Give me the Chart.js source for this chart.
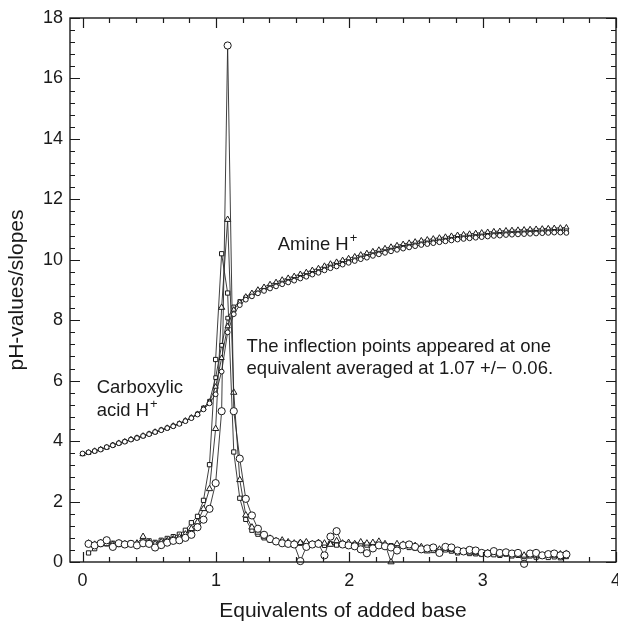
<!DOCTYPE html>
<html lang="en">
<head>
<meta charset="UTF-8">
<title>pH-values/slopes</title>
<script src="https://cdn.jsdelivr.net/npm/chart.js"></script>
<style>
  html, body { margin: 0; padding: 0; background: #fff; }
  #wrap { width: 618px; height: 622px; }
</style>
</head>
<body>
<div id="wrap"><canvas id="chart" width="618" height="622"></canvas></div>
<script>
// equivalents of added base (same grid for all three titrations)
const equivalents = [
  0.000, 0.045, 0.091, 0.136, 0.181, 0.227, 0.272, 0.317, 0.363, 0.408,
  0.454, 0.499, 0.544, 0.590, 0.635, 0.680, 0.726, 0.771, 0.816, 0.862,
  0.907, 0.952, 0.998, 1.043, 1.088, 1.134, 1.179, 1.224, 1.270, 1.315,
  1.361, 1.406, 1.451, 1.497, 1.542, 1.587, 1.633, 1.678, 1.723, 1.769,
  1.814, 1.859, 1.905, 1.950, 1.995, 2.041, 2.086, 2.132, 2.177, 2.222,
  2.268, 2.313, 2.358, 2.404, 2.449, 2.494, 2.540, 2.585, 2.630, 2.676,
  2.721, 2.766, 2.812, 2.857, 2.902, 2.948, 2.993, 3.038, 3.084, 3.129,
  3.175, 3.220, 3.265, 3.311, 3.356, 3.401, 3.447, 3.492, 3.537, 3.583,
  3.628
];

// pH values
const phCircles = [
  3.59, 3.63, 3.67, 3.72, 3.80, 3.86, 3.93, 3.98, 4.05, 4.10,
  4.17, 4.23, 4.30, 4.36, 4.43, 4.49, 4.57, 4.66, 4.76, 4.88,
  5.05, 5.25, 5.55, 6.30, 7.60, 8.20, 8.50, 8.68, 8.79, 8.89,
  8.97, 9.05, 9.12, 9.19, 9.25, 9.31, 9.38, 9.44, 9.51, 9.57,
  9.65, 9.72, 9.78, 9.84, 9.90, 9.96, 10.02, 10.07, 10.13, 10.18,
  10.23, 10.28, 10.33, 10.37, 10.41, 10.45, 10.49, 10.52, 10.55, 10.58,
  10.61, 10.64, 10.67, 10.69, 10.71, 10.73, 10.75, 10.77, 10.79, 10.80,
  10.82, 10.83, 10.84, 10.85, 10.86, 10.87, 10.88, 10.89, 10.90, 10.90,
  10.89
];
const phTriangles = [
  3.57, 3.62, 3.68, 3.73, 3.79, 3.87, 3.94, 3.99, 4.06, 4.11,
  4.18, 4.24, 4.31, 4.37, 4.44, 4.51, 4.58, 4.68, 4.78, 4.90,
  5.08, 5.30, 5.80, 6.75, 7.80, 8.35, 8.60, 8.78, 8.90, 9.01,
  9.10, 9.19, 9.26, 9.34, 9.40, 9.46, 9.53, 9.59, 9.66, 9.72,
  9.80, 9.87, 9.93, 9.99, 10.05, 10.11, 10.17, 10.22, 10.28, 10.33,
  10.38, 10.43, 10.48, 10.52, 10.56, 10.60, 10.64, 10.67, 10.70, 10.73,
  10.76, 10.79, 10.82, 10.84, 10.86, 10.88, 10.90, 10.92, 10.94, 10.95,
  10.97, 10.98, 10.99, 11.00, 11.01, 11.02, 11.03, 11.04, 11.05, 11.06,
  11.07
];
const phSquares = [
  3.58, 3.62, 3.67, 3.73, 3.80, 3.87, 3.93, 3.99, 4.05, 4.11,
  4.17, 4.24, 4.30, 4.37, 4.43, 4.50, 4.58, 4.67, 4.77, 4.90,
  5.10, 5.32, 6.10, 7.17, 8.07, 8.44, 8.62, 8.75, 8.85, 8.95,
  9.04, 9.12, 9.19, 9.26, 9.32, 9.38, 9.45, 9.51, 9.58, 9.64,
  9.72, 9.79, 9.85, 9.91, 9.97, 10.03, 10.09, 10.14, 10.20, 10.25,
  10.30, 10.35, 10.40, 10.44, 10.48, 10.52, 10.56, 10.59, 10.62, 10.65,
  10.68, 10.71, 10.74, 10.76, 10.78, 10.80, 10.82, 10.84, 10.86, 10.87,
  10.89, 10.90, 10.91, 10.92, 10.93, 10.94, 10.95, 10.96, 10.97, 10.98,
  10.98
];

// slopes (no value at the first point)
const slopeCircles = [
  null, 0.60, 0.55, 0.62, 0.72, 0.50, 0.62, 0.58, 0.60, 0.55,
  0.62, 0.60, 0.48, 0.56, 0.64, 0.70, 0.72, 0.80, 0.90, 1.15,
  1.40, 1.76, 2.61, 4.99, 17.09, 4.99, 3.42, 2.09, 1.54, 1.10,
  0.90, 0.76, 0.68, 0.62, 0.60, 0.58, 0.03, 0.50, 0.58, 0.60,
  0.22, 0.84, 1.02, 0.58, 0.55, 0.52, 0.42, 0.29, 0.45, 0.55,
  0.52, 0.48, 0.38, 0.55, 0.58, 0.50, 0.42, 0.45, 0.48, 0.30,
  0.50, 0.48, 0.38, 0.35, 0.40, 0.38, 0.30, 0.28, 0.36, 0.30,
  0.32, 0.28, 0.30, -0.06, 0.28, 0.30, 0.22, 0.26, 0.28, 0.22,
  0.25
];
const slopeTriangles = [
  null, 0.62, 0.58, 0.64, 0.60, 0.58, 0.62, 0.60, 0.58, 0.62,
  0.84, 0.64, 0.60, 0.66, 0.70, 0.76, 0.82, 0.92, 1.10, 1.32,
  1.76, 2.42, 4.41, 8.42, 11.33, 5.61, 2.72, 1.55, 1.15, 0.98,
  0.85, 0.78, 0.70, 0.72, 0.66, 0.62, 0.64, 0.66, 0.60, 0.64,
  0.62, 0.58, 0.70, 0.62, 0.64, 0.60, 0.66, 0.62, 0.64, 0.68,
  0.60, 0.00, 0.60, 0.58, 0.56, 0.54, 0.50, 0.36, 0.46, 0.42,
  0.44, 0.40, 0.36, 0.34, 0.32, 0.30, 0.28, 0.30, 0.34, 0.26,
  0.28, 0.24, 0.26, 0.22, 0.24, 0.22, 0.20, 0.24, 0.22, 0.26,
  0.28
];
const slopeSquares = [
  null, 0.30, 0.44, 0.58, 0.60, 0.62, 0.58, 0.60, 0.63, 0.58,
  0.66, 0.70, 0.65, 0.72, 0.78, 0.84, 0.92, 1.05, 1.30, 1.51,
  2.04, 3.22, 6.70, 10.20, 8.90, 3.64, 2.11, 1.41, 1.05, 0.92,
  0.80, 0.72, 0.66, 0.62, 0.60, 0.58, 0.62, 0.60, 0.58, 0.62,
  0.55, 0.60, 0.56, 0.58, 0.55, 0.58, 0.55, 0.56, 0.54, 0.55,
  0.52, 0.54, 0.50, 0.52, 0.48, 0.45, 0.40, 0.42, 0.38, 0.33,
  0.40, 0.36, 0.30, 0.32, 0.28, 0.27, 0.25, 0.27, 0.24, 0.22,
  0.26, 0.20, 0.22, 0.18, 0.20, 0.16, 0.19, 0.15, 0.17, 0.14,
  0.18
];

const xTickLabels = [0, 1, 2, 3, 4];
const yTickLabels = [0, 2, 4, 6, 8, 10, 12, 14, 16, 18];

// text written inside the plot, anchored in data units
const notes = [
  { text: 'Amine H', sup: '+', x: 1.464, y: 10.31 },
  { text: 'Carboxylic', x: 0.106, y: 5.58 },
  { text: 'acid H', sup: '+', x: 0.106, y: 4.82 },
  { text: 'The inflection points appeared at one', x: 1.23, y: 6.94 },
  { text: 'equivalent averaged at 1.07 +/\u2212 0.06.', x: 1.23, y: 6.21 }
];

const FONT = "'Liberation Sans', Arial, Helvetica, sans-serif";
const INK = '#1a1a1a';

function pts(arr) {
  return equivalents.map((x, i) => ({ x: x, y: arr[i] }));
}

function series(label, arr, style, radius) {
  return {
    label: label,
    data: pts(arr),
    borderColor: '#2a2a2a',
    borderWidth: 0.9,
    backgroundColor: '#fff',
    pointStyle: style,
    pointRadius: radius,
    pointBorderWidth: 1,
    pointBorderColor: INK,
    pointBackgroundColor: '#fff',
    tension: 0,
    spanGaps: false,
    clip: false
  };
}

// inward ticks on all four sides + frame
const frameTicks = {
  id: 'frameTicks',
  afterDatasetsDraw(chart) {
    const { ctx, chartArea: a, scales: { x, y } } = chart;
    ctx.save();
    ctx.strokeStyle = INK;
    ctx.lineWidth = 1.4;
    ctx.strokeRect(a.left, a.top, a.right - a.left, a.bottom - a.top);
    ctx.lineWidth = 1.2;
    ctx.beginPath();
    for (let k = 0; k <= 20; k++) {
      const px = Math.round(x.getPixelForValue(k * 0.2)) + 0.5;
      const len = k % 5 === 0 ? 10 : 5;
      ctx.moveTo(px, a.bottom); ctx.lineTo(px, a.bottom - len);
      ctx.moveTo(px, a.top); ctx.lineTo(px, a.top + len);
    }
    for (let k = 0; k <= 45; k++) {
      const py = Math.round(y.getPixelForValue(k * 0.4)) + 0.5;
      const len = k % 5 === 0 ? 10 : 5;
      ctx.moveTo(a.left, py); ctx.lineTo(a.left + len, py);
      ctx.moveTo(a.right, py); ctx.lineTo(a.right - len, py);
    }
    ctx.stroke();
    ctx.restore();
  }
};

const notesPlugin = {
  id: 'notes',
  afterDatasetsDraw(chart) {
    const { ctx, scales: { x, y } } = chart;
    ctx.save();
    ctx.fillStyle = INK;
    ctx.textBaseline = 'alphabetic';
    ctx.textAlign = 'left';
    notes.forEach(n => {
      const px = x.getPixelForValue(n.x);
      const py = y.getPixelForValue(n.y);
      ctx.font = '18.5px ' + FONT;
      ctx.fillText(n.text, px, py);
      if (n.sup) {
        const w = ctx.measureText(n.text).width;
        ctx.font = '13px ' + FONT;
        ctx.fillText(n.sup, px + w + 1, py - 8);
      }
    });
    ctx.restore();
  }
};

new Chart(document.getElementById('chart').getContext('2d'), {
  type: 'line',
  data: {
    datasets: [
      series('pH circles', phCircles, 'circle', 2.4),
      series('pH triangles', phTriangles, 'triangle', 3),
      series('pH squares', phSquares, 'rect', 2.6),
      series('slope circles', slopeCircles, 'circle', 3.6),
      series('slope triangles', slopeTriangles, 'triangle', 3.6),
      series('slope squares', slopeSquares, 'rect', 3)
    ]
  },
  options: {
    responsive: false,
    animation: false,
    layout: { autoPadding: false, padding: { left: 0, right: 2, top: 18, bottom: 0 } },
    plugins: {
      legend: { display: false },
      tooltip: { enabled: false }
    },
    scales: {
      x: {
        type: 'linear',
        min: -0.094,
        max: 4.0,
        grid: { display: false, drawTicks: false },
        border: { display: false },
        afterFit: s => { s.height = 60; s.paddingLeft = 0; s.paddingRight = 0; },
        afterBuildTicks: s => { s.ticks = xTickLabels.map(v => ({ value: v })); },
        ticks: {
          includeBounds: false,
          padding: 8,
          color: INK,
          font: { family: FONT, size: 18 },
          callback: v => String(v)
        },
        title: {
          display: true,
          text: 'Equivalents of added base',
          color: INK,
          padding: { top: 0, bottom: 0 },
          font: { family: FONT, size: 21, lineHeight: 1 }
        }
      },
      y: {
        type: 'linear',
        min: 0,
        max: 18,
        grid: { display: false, drawTicks: false },
        border: { display: false },
        afterFit: s => { s.width = 70; s.paddingTop = 0; s.paddingBottom = 0; },
        afterBuildTicks: s => { s.ticks = yTickLabels.map(v => ({ value: v })); },
        ticks: {
          includeBounds: false,
          padding: 7,
          color: INK,
          font: { family: FONT, size: 18 },
          callback: v => String(v)
        },
        title: {
          display: true,
          text: 'pH-values/slopes',
          color: INK,
          padding: { top: 7, bottom: 0 },
          font: { family: FONT, size: 21, lineHeight: 1 }
        }
      }
    }
  },
  plugins: [frameTicks, notesPlugin]
});
</script>
</body>
</html>
